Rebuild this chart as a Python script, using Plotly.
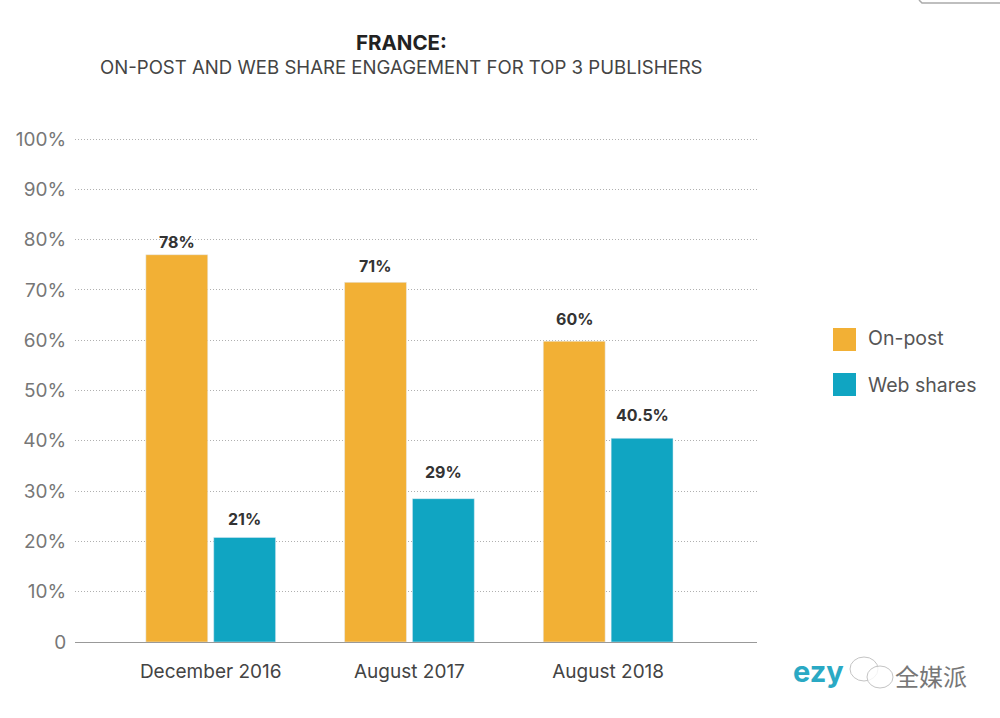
import plotly.graph_objects as go

periods = ["December 2016", "August 2017", "August 2018"]
on_post = [77, 71.5, 59.8]
web_shares = [20.8, 28.5, 40.5]
on_post_labels = ["78%", "71%", "60%"]
web_shares_labels = ["21%", "29%", "40.5%"]
y_ticks = [0, 10, 20, 30, 40, 50, 60, 70, 80, 90, 100]
y_tick_labels = ["0", "10%", "20%", "30%", "40%", "50%", "60%", "70%", "80%", "90%", "100%"]

ORANGE = "#f2b035"
TEAL = "#10a5c2"
FONT = "Inter"

W, H = 1000, 718
LEFT, RIGHT, TOP, BOTTOM = 75, 757, 137, 642


def fx(px):
    return (px - LEFT) / (RIGHT - LEFT)


def fy(px):
    return (BOTTOM - px) / (BOTTOM - TOP)


def label(px, py, text, size, color, anchor="center", family=FONT):
    return dict(
        x=fx(px), y=fy(py), xref="paper", yref="paper", text=text, showarrow=False,
        xanchor=anchor, yanchor="middle", font=dict(family=family, size=size, color=color),
    )


fig = go.Figure()

fig.add_trace(go.Bar(x=periods, y=on_post, name="On-post", marker_color=ORANGE))
fig.add_trace(go.Bar(x=periods, y=web_shares, name="Web shares", marker_color=TEAL))

# value labels sit at uneven heights above the bars in the original
on_post_shift = [13, 16, 22]
web_shares_shift = [18, 27, 23]
annotations = []
for i, p in enumerate(periods):
    annotations.append(dict(
        x=i - 0.171, y=on_post[i], text=f"<b>{on_post_labels[i]}</b>", showarrow=False,
        yshift=on_post_shift[i], font=dict(family=FONT, size=16, color="#333333"),
    ))
    annotations.append(dict(
        x=i + 0.171, y=web_shares[i], text=f"<b>{web_shares_labels[i]}</b>", showarrow=False,
        yshift=web_shares_shift[i], font=dict(family=FONT, size=16, color="#333333"),
    ))

annotations += [
    label(401, 42, "<b>FRANCE:</b>", 20.5, "#222222"),
    label(401, 67, "ON-POST AND WEB SHARE ENGAGEMENT FOR TOP 3 PUBLISHERS", 18.6, "#444444"),
    label(866, 338, "On-post", 19.5, "#555555", "left"),
    label(866, 385, "Web shares", 19.5, "#555555", "left"),
    label(791, 671, "<b>ezy</b>", 29, "#2aa9c4", "left"),
    label(893, 675, "全媒派", 24, "#777777", "left", "Noto Sans CJK SC"),
]

shapes = [
    dict(type="rect", xref="paper", yref="paper", x0=fx(833), x1=fx(856), y0=fy(351), y1=fy(328),
         fillcolor=ORANGE, line_width=0),
    dict(type="rect", xref="paper", yref="paper", x0=fx(833), x1=fx(856), y0=fy(396), y1=fy(373),
         fillcolor=TEAL, line_width=0),
    # wechat watermark bubbles over the logo
    dict(type="circle", xref="paper", yref="paper", x0=fx(850), x1=fx(878), y0=fy(681), y1=fy(657),
         fillcolor="rgba(255,255,255,0.8)", line=dict(color="#c4c4c4", width=1)),
    dict(type="circle", xref="paper", yref="paper", x0=fx(867), x1=fx(893), y0=fy(688), y1=fy(666),
         fillcolor="rgba(255,255,255,0.8)", line=dict(color="#c4c4c4", width=1)),
    # corner of a box cut off by the screenshot
    dict(type="path", xref="paper", yref="paper",
         path=f"M {fx(919)} {fy(0)} L {fx(922)} {fy(3)} L {fx(1000)} {fy(3)}",
         line=dict(color="#aaaaaa", width=1.5)),
]

fig.update_layout(
    width=W,
    height=H,
    margin=dict(l=LEFT, r=W - RIGHT, t=TOP, b=H - BOTTOM, pad=0),
    paper_bgcolor="white",
    plot_bgcolor="white",
    barmode="group",
    bargap=0.317,
    bargroupgap=0.088,
    showlegend=False,
    annotations=annotations,
    shapes=shapes,
    font=dict(family=FONT),
)
fig.update_xaxes(
    range=[-0.683, 2.749],
    automargin=False,
    showgrid=False,
    showline=True,
    linecolor="#999999",
    linewidth=1,
    ticks="outside",
    ticklen=12,
    tickcolor="rgba(0,0,0,0)",
    tickfont=dict(size=19, color="#444444"),
)
fig.update_yaxes(
    # a little headroom so plotly keeps the 100% gridline
    range=[0, 100.4],
    automargin=False,
    tickvals=y_ticks,
    ticktext=y_tick_labels,
    showgrid=True,
    gridcolor="#b0b0b0",
    griddash="1px,2px",
    gridwidth=1,
    zeroline=False,
    ticks="outside",
    ticklen=4,
    tickcolor="rgba(0,0,0,0)",
    tickfont=dict(size=19, color="#777777"),
)

fig.write_html(
    "out.html",
    config={"displayModeBar": False},
    post_script="document.body.style.margin = '0';",
)
